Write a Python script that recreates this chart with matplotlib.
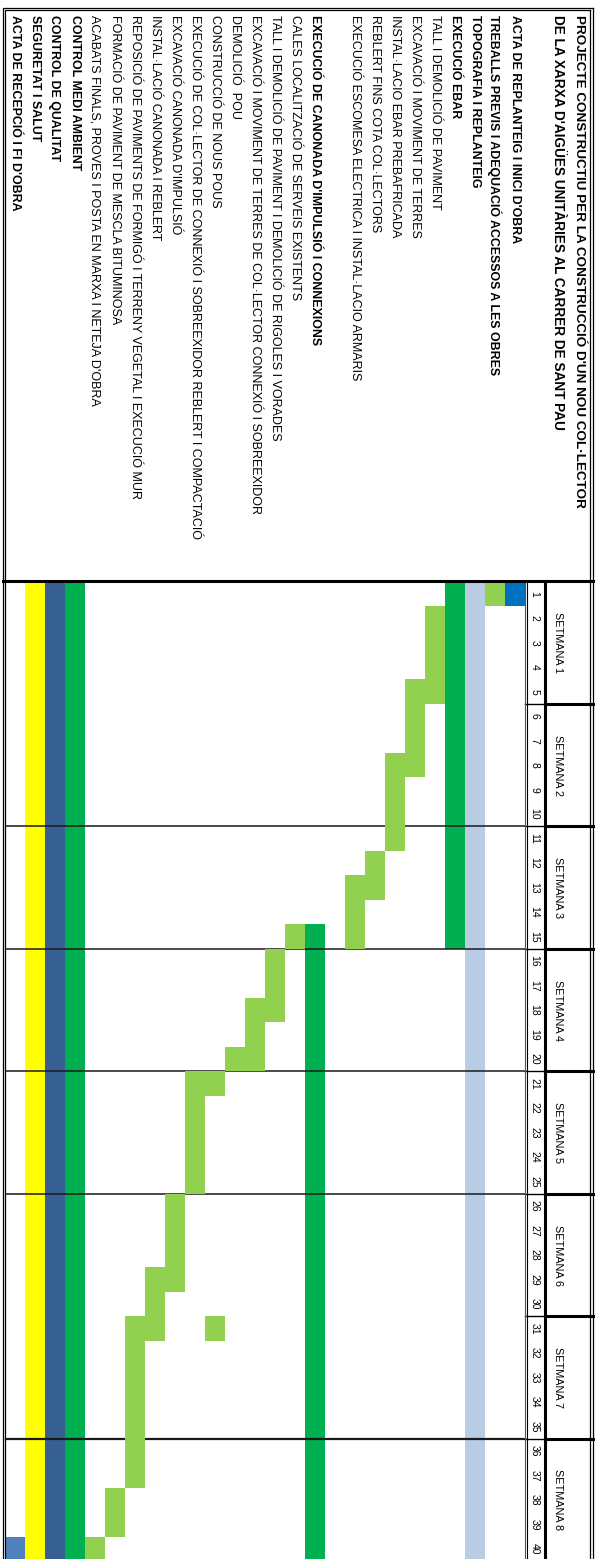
import matplotlib
matplotlib.use("Agg")
import matplotlib.pyplot as plt

# planning de l'obra: 26 files (la 10 buida), 40 dies en 8 setmanes
tasks = [
    "ACTA DE REPLANTEIG I INICI D'OBRA",
    "TREBALLS PREVIS I ADEQUACIÓ ACCESSOS A LES OBRES",
    "TOPOGRAFIA I REPLANTEIG",
    "EXECUCIÓ EBAR",
    "TALL I DEMOLICIÓ DE PAVIMENT",
    "EXCAVACIÓ I MOVIMENT DE TERRES",
    "INSTAL·LACIO EBAR PREBAFRICADA",
    "REBLERT FINS COTA COL·LECTORS",
    "EXECUCIÓ ESCOMESA ELECTRICA I INSTAL·LACIO ARMARIS",
    "",
    "EXECUCIÓ DE CANONADA D'IMPULSIÓ I CONNEXIONS",
    "CALES LOCALITZACIÓ DE SERVEIS EXISTENTS",
    "TALL I DEMOLICIÓ DE PAVIMENT I DEMOLICIÓ DE RIGOLES I VORADES",
    "EXCAVACIÓ I MOVIMENT DE TERRES DE COL·LECTOR CONNEXIÓ I SOBREEXIDOR",
    "DEMOLICIÓ  POU",
    "CONSTRUCCIÓ DE NOUS POUS",
    "EXECUCIÓ DE COL·LECTOR DE CONNEXIÓ I SOBREEXIDOR REBLERT I COMPACTACIÓ",
    "EXCAVACIÓ CANONADA D'IMPULSIÓ",
    "INSTAL·LACIÓ CANONADA I REBLERT",
    "REPOSICIÓ DE PAVIMENTS DE FORMIGÓ I TERRENY VEGETAL I EXECUCIÓ MUR",
    "FORMACIÓ DE PAVIMENT DE MESCLA BITUMINOSA",
    "ACABATS FINALS, PROVES I POSTA EN MARXA I NETEJA D'OBRA",
    "CONTROL MEDI AMBIENT",
    "CONTROL DE QUALITAT",
    "SEGURETAT I SALUT",
    "ACTA DE RECEPCIÓ I FI D'OBRA",
]
header_rows = [1, 2, 3, 4, 11, 23, 24, 25, 26]

# trams de cada barra: fila, dia inicial i dia final (inclosos)
bar_row = [1, 2, 3, 4, 5, 6, 7, 8, 9, 11, 12, 13, 14, 15, 16, 16, 17, 18, 19, 20, 21, 22, 23, 24, 25, 26]
bar_start = [1, 1, 1, 1, 2, 5, 8, 12, 13, 15, 15, 16, 18, 20, 21, 31, 21, 26, 29, 31, 38, 40, 1, 1, 1, 40]
bar_end = [1, 1, 40, 15, 5, 8, 11, 13, 15, 40, 15, 18, 20, 20, 21, 31, 25, 29, 31, 37, 39, 40, 40, 40, 40, 40]

days = list(range(1, 41))
weeks = ["SETMANA 1", "SETMANA 2", "SETMANA 3", "SETMANA 4",
         "SETMANA 5", "SETMANA 6", "SETMANA 7", "SETMANA 8"]
week_lines = [10, 15, 20, 25, 35]

title = ["PROJECTE CONSTRUCTIU PER LA CONSTRUCCIÓ D'UN NOU COL·LECTOR",
         "DE LA XARXA D'AIGÜES UNITÀRIES AL CARRER DE SANT PAU"]

row_colors = {1: "#0070C0", 3: "#B8CCE4", 4: "#00B050", 11: "#00B050",
              23: "#00B050", 24: "#366092", 25: "#FFFF00", 26: "#4F81BD"}
light_green = "#92D050"

FONT = ["Liberation Sans Narrow", "Liberation Sans", "DejaVu Sans"]
n_rows = len(tasks)

fig = plt.figure(figsize=(5.95, 15.59), dpi=100)
ax = fig.add_axes([0, 0, 1, 1])
# x: una unitat per fila (fila 1 a la dreta), y: una unitat per dia, cap avall
ax.set_xlim(-0.225, 29.525)
ax.set_ylim(39.906, -23.727)
ax.axis("off")


def xr(row):
    return n_rows - row + 0.5


for r, s, e in zip(bar_row, bar_start, bar_end):
    c = row_colors.get(r, light_green)
    ax.bar(xr(r), e - s + 1, bottom=s - 1, width=1.0, color=c,
           linewidth=0, zorder=3 if c == light_green else 1)

# separacions entre setmanes dins del diagrama
for d in week_lines:
    ax.plot([0.08, n_rows], [d, d], color="#1a1a1a",
            lw=1.6 if d == 35 else 1.1, zorder=2)

# columna de dies
for d in days:
    ax.text(n_rows + 0.5, d - 0.5, str(d), rotation=-90, rotation_mode="anchor",
            ha="center", va="center", fontsize=7.5, family=FONT)
# columna de setmanes
for k, w in enumerate(weeks):
    ax.text(27.68, 5 * k + 2.5, w, rotation=-90, rotation_mode="anchor",
            ha="center", va="center", fontsize=7.8, family=FONT)
for k in range(1, 8):
    ax.plot([26, 27], [5 * k, 5 * k], color="black", lw=1.0, zorder=4)
    ax.plot([27, 29.4], [5 * k, 5 * k], color="black", lw=2.2, zorder=4)
ax.plot([26, 26], [0, 40], color="#555555", lw=0.8, zorder=4)
ax.plot([26.1, 26.1], [0, 40], color="black", lw=0.8, zorder=4)
ax.plot([27, 27], [0, 40], color="black", lw=2.2, zorder=4)

# línia sota la capçalera de textos
ax.plot([-0.1, 29.4], [0, 0], color="black", lw=2.2, zorder=4)

# marc doble exterior
for off_x, off_y in [(0.0, 0.0), (0.12, 0.1)]:
    x0, x1 = -0.075 + off_x, 29.4 - off_x
    y0, y1 = -23.4 + off_y, 40.5
    ax.plot([x0, x1, x1], [y1, y1, y0], color="black", lw=0.9, zorder=5)
    ax.plot([x0, x0, x1], [y1, y0, y0], color="black", lw=0.9, zorder=5)

# títol
ax.text(28.7, -23.1, title[0], rotation=-90, rotation_mode="anchor",
        ha="left", va="center", fontsize=9.7, fontweight="bold", family=FONT)
ax.text(27.7, -23.1, title[1], rotation=-90, rotation_mode="anchor",
        ha="left", va="center", fontsize=9.8, fontweight="bold", family=FONT)

# noms de les tasques
for i, name in enumerate(tasks, start=1):
    if not name:
        continue
    bold = i in header_rows
    ax.text(xr(i), -23.1, name, rotation=-90, rotation_mode="anchor",
            ha="left", va="center", fontsize=8.9 if bold else 9.0,
            fontweight="bold" if bold else "normal", family=FONT)

fig.savefig("out.png", dpi=100)
